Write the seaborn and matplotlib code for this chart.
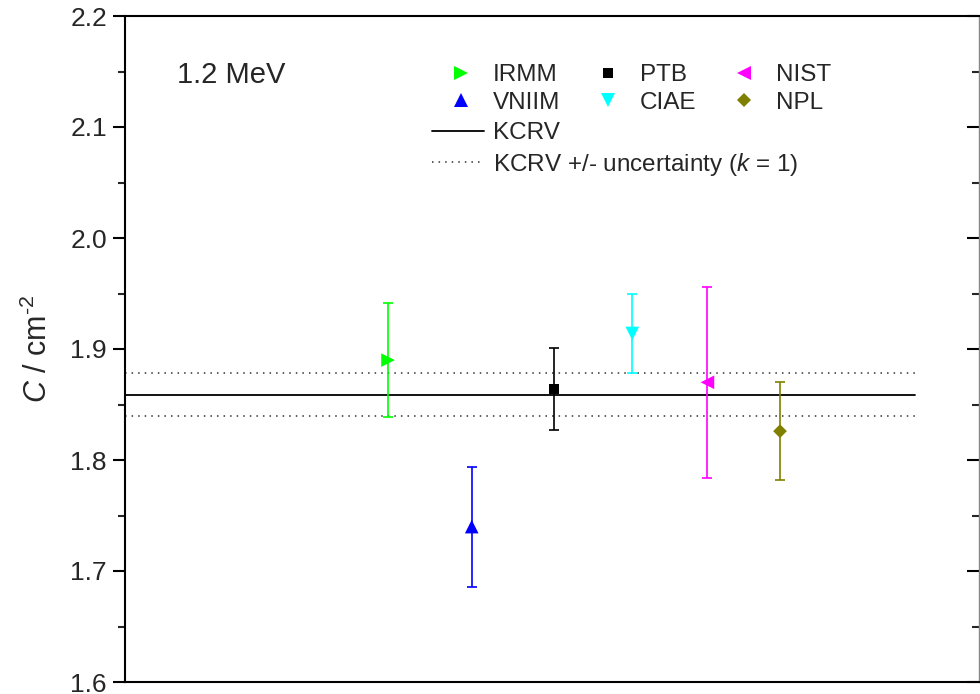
import matplotlib
matplotlib.use("Agg")
import matplotlib.pyplot as plt
from matplotlib.lines import Line2D
import seaborn as sns
import pandas as pd

# Laboratory results at 1.2 MeV
labs = ["IRMM", "VNIIM", "PTB", "CIAE", "NIST", "NPL"]
xpos = [3.08, 4.06, 5.02, 5.94, 6.82, 7.67]
values = [1.890, 1.740, 1.864, 1.914, 1.870, 1.826]
uncert = [0.051, 0.054, 0.037, 0.036, 0.086, 0.044]
colors = ["#00ff00", "#0000ff", "#000000", "#00ffff", "#ff00ff", "#808000"]
markers = [">", "^", "s", "v", "<", "D"]
msizes = [9.8, 9.8, 7.2, 9.8, 9.8, 7.0]

# Key comparison reference value and its standard uncertainty
kcrv = 1.859
kcrv_u = 0.019
kcrv_x = [0.0, 9.25]

yticks = [1.6, 1.7, 1.8, 1.9, 2.0, 2.1, 2.2]

sns.set_style("ticks")
plt.rcParams["font.family"] = ["Liberation Sans", "DejaVu Sans"]
plt.rcParams["mathtext.fontset"] = "custom"
plt.rcParams["mathtext.rm"] = "Liberation Sans"
plt.rcParams["mathtext.it"] = "Liberation Sans:italic"

df = pd.DataFrame({"lab": labs, "x": xpos, "C": values, "u": uncert})

fig = plt.figure(figsize=(9.8, 6.94), dpi=100)
ax = fig.add_axes([125 / 980, 12 / 694, 854 / 980, 666 / 694])

dot_style = (0, (1, 3.3))

# reference value and its uncertainty band
ax.plot(kcrv_x, [kcrv, kcrv], color="black", lw=1.3, zorder=1)
for y in (kcrv + kcrv_u, kcrv - kcrv_u):
    ax.plot(kcrv_x, [y, y], color="#333333", lw=1.1, linestyle=dot_style, zorder=1)

# error bars and markers, one laboratory at a time
for i, lab in enumerate(labs):
    row = df[df["lab"] == lab]
    ax.errorbar(row["x"], row["C"], yerr=row["u"], fmt="none", ecolor=colors[i],
                elinewidth=1.2, capsize=3.5, capthick=1.2, zorder=2)
    sns.scatterplot(data=row, x="x", y="C", marker=markers[i], color=colors[i],
                    s=msizes[i] ** 2, edgecolor="none", linewidth=0,
                    legend=False, ax=ax, zorder=3)

ax.set_xlim(0, 10)
ax.set_ylim(1.6, 2.2)
ax.set_yticks(yticks)
ax.set_yticklabels([f"{t:.1f}" for t in yticks])
ax.set_yticks([1.65, 1.75, 1.85, 1.95, 2.05, 2.15], minor=True)
ax.set_xticks([])
ax.set_xlabel("")
ax.set_ylabel(r"$\it{C}$ / cm$^{\text{-2}}$", fontsize=22, labelpad=12)

for s in ax.spines.values():
    s.set_visible(True)
    s.set_linewidth(1.5)
    s.set_color("black")
ax.spines["right"].set_linewidth(1.0)
ax.spines["right"].set_color("#888888")

ax.tick_params(axis="y", which="major", direction="out", length=9, width=1.5,
               labelsize=19, pad=4, right=True, color="black")
ax.tick_params(axis="y", which="minor", direction="out", length=5, width=1.5,
               right=True)

# right-side ticks point inward
for t in ax.yaxis.get_major_ticks() + ax.yaxis.get_minor_ticks():
    t.tick2line.set_marker(matplotlib.lines.TICKLEFT)

fig.text(177 / 980, 1 - 83 / 694, "1.2 MeV", fontsize=21, va="baseline", ha="left")

# legend: laboratories
handles = [Line2D([], [], linestyle="none", marker=m, color=c, markersize=ms,
                  markeredgewidth=0) for m, c, ms in zip(markers, colors, msizes)]
leg1 = ax.legend(handles, labs, ncol=3, loc="upper left",
                 bbox_to_anchor=(449 / 980, 1 - 64 / 694),
                 bbox_transform=fig.transFigure, frameon=False,
                 fontsize=17.5, handlelength=1.0, handletextpad=0.81,
                 columnspacing=1.47, labelspacing=0.23, borderpad=0,
                 borderaxespad=0)
ax.add_artist(leg1)

line_handles = [Line2D([], [], color="black", lw=1.3),
                Line2D([], [], color="#333333", lw=1.1, linestyle=dot_style)]
leg2 = ax.legend(line_handles, ["KCRV", r"KCRV +/- uncertainty ($\it{k}$ = 1)"],
                 loc="upper left", bbox_to_anchor=(432 / 980, 1 - 122 / 694),
                 bbox_transform=fig.transFigure, frameon=False,
                 fontsize=17.5, handlelength=2.14, handletextpad=0.37,
                 labelspacing=0.28, borderpad=0, borderaxespad=0)

fig.savefig("out.png", dpi=100)
